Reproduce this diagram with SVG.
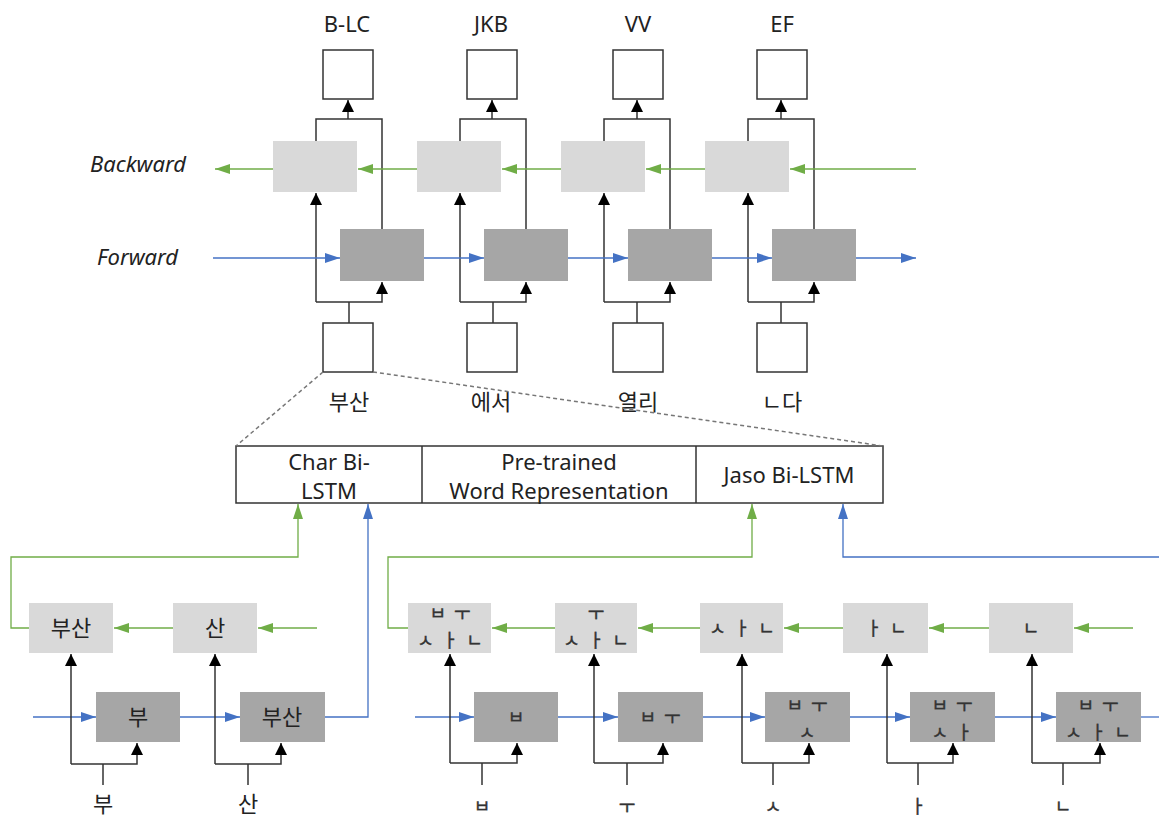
<svg xmlns="http://www.w3.org/2000/svg" width="1159" height="819" viewBox="0 0 1159 819">
<style>
.t{font-family:"Noto Sans","Noto Sans CJK KR",sans-serif;font-size:22px;fill:#222;text-anchor:middle}
.k{font-family:"Noto Sans CJK KR","Noto Sans",sans-serif;font-size:22px;fill:#222;text-anchor:middle}
.j{font-family:"Noto Sans CJK KR",sans-serif;font-size:18px;fill:#333;stroke:#333;stroke-width:0.4px;text-anchor:middle;letter-spacing:8px}
.it{font-family:"Noto Sans",sans-serif;font-size:22px;font-style:italic;fill:#222}
.wb{fill:#fff;stroke:#333;stroke-width:1.5}
.lb{fill:#d9d9d9}
.db{fill:#a6a6a6}
.c{fill:none;stroke:#333;stroke-width:1.5}
.g{fill:none;stroke:#70ad47;stroke-width:1.3}
.b{fill:none;stroke:#4472c4;stroke-width:1.3}
.ca{marker-end:url(#ak)}
.ga{marker-end:url(#ag)}
.ba{marker-end:url(#ab)}
.d{fill:none;stroke:#777;stroke-width:1.5;stroke-dasharray:4,3}
</style>
<defs>
<marker id="ak" viewBox="0 0 12 12" refX="12" refY="6" markerWidth="12" markerHeight="12" markerUnits="userSpaceOnUse" orient="auto"><path d="M0,0 L12,6 L0,12 z" fill="#000"/></marker>
<marker id="ag" viewBox="0 0 15 10" refX="15" refY="5" markerWidth="15" markerHeight="10" markerUnits="userSpaceOnUse" orient="auto"><path d="M0,0 L15,5 L0,10 z" fill="#70ad47"/></marker>
<marker id="ab" viewBox="0 0 15 10" refX="15" refY="5" markerWidth="15" markerHeight="10" markerUnits="userSpaceOnUse" orient="auto"><path d="M0,0 L15,5 L0,10 z" fill="#4472c4"/></marker>
</defs>

<!-- labels -->
<text class="it" x="90" y="172">Backward</text>
<text class="it" x="97" y="265">Forward</text>

<!-- top column nodes -->
<g id="out1"><rect class="wb" x="323" y="50" width="50" height="49"/><text class="t" x="347" y="32">B-LC</text></g>
<g id="out2"><rect class="wb" x="467" y="50" width="50" height="49"/><text class="t" x="491" y="32">JKB</text></g>
<g id="out3"><rect class="wb" x="613" y="50" width="50" height="49"/><text class="t" x="638" y="32">VV</text></g>
<g id="out4"><rect class="wb" x="757" y="50" width="50" height="49"/><text class="t" x="782" y="32">EF</text></g>

<g id="bw1"><rect class="lb" x="273" y="141" width="84" height="51"/></g>
<g id="bw2"><rect class="lb" x="417" y="141" width="84" height="51"/></g>
<g id="bw3"><rect class="lb" x="561" y="141" width="84" height="51"/></g>
<g id="bw4"><rect class="lb" x="705" y="141" width="84" height="51"/></g>

<g id="fw1"><rect class="db" x="340" y="229" width="84" height="52"/></g>
<g id="fw2"><rect class="db" x="484" y="229" width="84" height="52"/></g>
<g id="fw3"><rect class="db" x="628" y="229" width="84" height="52"/></g>
<g id="fw4"><rect class="db" x="772" y="229" width="84" height="52"/></g>

<g id="in1"><rect class="wb" x="323" y="323" width="50" height="49"/><text class="k" x="349" y="410">부산</text></g>
<g id="in2"><rect class="wb" x="467" y="323" width="50" height="49"/><text class="k" x="491" y="410">에서</text></g>
<g id="in3"><rect class="wb" x="613" y="323" width="50" height="49"/><text class="k" x="638" y="410">열리</text></g>
<g id="in4"><rect class="wb" x="757" y="323" width="50" height="49"/><text class="k" x="782" y="410">ㄴ다</text></g>

<!-- embedding box -->
<g id="embed">
<rect class="wb" x="236" y="446" width="647" height="57"/>
<line class="c" x1="422" y1="446" x2="422" y2="503"/>
<line class="c" x1="696" y1="446" x2="696" y2="503"/>
<text class="t"><tspan x="329" y="470">Char Bi-</tspan><tspan x="329" y="499">LSTM</tspan></text>
<text class="t"><tspan x="559" y="470">Pre-trained</tspan><tspan x="559" y="499">Word Representation</tspan></text>
<text class="t" x="789" y="483">Jaso Bi-LSTM</text>
</g>

<!-- char level nodes -->
<g id="cb1"><rect class="lb" x="29" y="603" width="84" height="50"/><text class="k" x="71" y="636">부산</text></g>
<g id="cb2"><rect class="lb" x="173" y="603" width="84" height="50"/><text class="k" x="215" y="636">산</text></g>
<g id="cf1"><rect class="db" x="96" y="692" width="84" height="50"/><text class="k" x="138" y="725">부</text></g>
<g id="cf2"><rect class="db" x="240" y="692" width="85" height="50"/><text class="k" x="282" y="725">부산</text></g>
<text class="k" x="103" y="812">부</text>
<text class="k" x="248" y="812">산</text>

<!-- jaso level nodes -->
<g id="jb1"><rect class="lb" x="408" y="603" width="83" height="50"/><text class="j"><tspan x="454" y="620">ㅂㅜ</tspan><tspan x="454" y="647">ㅅㅏㄴ</tspan></text></g>
<g id="jb2"><rect class="lb" x="555" y="603" width="82" height="50"/><text class="j"><tspan x="600" y="620">ㅜ</tspan><tspan x="600" y="647">ㅅㅏㄴ</tspan></text></g>
<g id="jb3"><rect class="lb" x="700" y="603" width="83" height="50"/><text class="j" x="746" y="635">ㅅㅏㄴ</text></g>
<g id="jb4"><rect class="lb" x="843" y="603" width="85" height="50"/><text class="j" x="890" y="635">ㅏㄴ</text></g>
<g id="jb5"><rect class="lb" x="989" y="603" width="84" height="50"/><text class="j" x="1035" y="635">ㄴ</text></g>

<g id="jf1"><rect class="db" x="474" y="692" width="84" height="50"/><text class="j" x="520" y="724">ㅂ</text></g>
<g id="jf2"><rect class="db" x="618" y="692" width="85" height="50"/><text class="j" x="664" y="724">ㅂㅜ</text></g>
<g id="jf3"><rect class="db" x="765" y="692" width="85" height="50"/><text class="j"><tspan x="811" y="712">ㅂㅜ</tspan><tspan x="811" y="739">ㅅ</tspan></text></g>
<g id="jf4"><rect class="db" x="910" y="692" width="85" height="50"/><text class="j"><tspan x="956" y="712">ㅂㅜ</tspan><tspan x="956" y="739">ㅅㅏ</tspan></text></g>
<g id="jf5"><rect class="db" x="1056" y="692" width="85" height="50"/><text class="j"><tspan x="1102" y="712">ㅂㅜ</tspan><tspan x="1102" y="739">ㅅㅏㄴ</tspan></text></g>

<text class="j" x="486" y="813">ㅂ</text>
<text class="j" x="631" y="813">ㅜ</text>
<text class="j" x="777" y="813">ㅅ</text>
<text class="j" x="922" y="813">ㅏ</text>
<text class="j" x="1067" y="813">ㄴ</text>

<!-- connectors -->
<g id="connectors">
<!-- top columns -->
<path class="c" d="M316,141 V119 H382 V229"/><path class="c ca" d="M348,119 V100"/>
<path class="c ca" d="M316,302 V193"/><path class="c ca" d="M316,302 H382 V282"/><path class="c" d="M349,302 V323"/>
<path class="c" d="M460,141 V119 H526 V229"/><path class="c ca" d="M492,119 V100"/>
<path class="c ca" d="M460,302 V193"/><path class="c ca" d="M460,302 H526 V282"/><path class="c" d="M493,302 V323"/>
<path class="c" d="M604,141 V119 H670 V229"/><path class="c ca" d="M637,119 V100"/>
<path class="c ca" d="M604,302 V193"/><path class="c ca" d="M604,302 H670 V282"/><path class="c" d="M637,302 V323"/>
<path class="c" d="M748,141 V119 H814 V229"/><path class="c ca" d="M781,119 V100"/>
<path class="c ca" d="M748,302 V193"/><path class="c ca" d="M748,302 H814 V282"/><path class="c" d="M781,302 V323"/>

<path class="g ga" d="M916,169 H790"/>
<path class="g ga" d="M705,169 H646"/>
<path class="g ga" d="M561,169 H502"/>
<path class="g ga" d="M417,169 H358"/>
<path class="g ga" d="M273,169 H215"/>

<path class="b ba" d="M213,258 H340"/>
<path class="b ba" d="M424,258 H484"/>
<path class="b ba" d="M568,258 H628"/>
<path class="b ba" d="M712,258 H772"/>
<path class="b ba" d="M856,258 H916"/>

<!-- zoom dashed lines -->
<path class="d" d="M323,372 L236,446"/>
<path class="d" d="M373,372 L883,446"/>

<!-- char level -->
<path class="g ga" d="M317,628 H258"/>
<path class="g ga" d="M173,628 H114"/>
<path class="b ba" d="M33,717 H96"/>
<path class="b ba" d="M180,717 H240"/>
<path class="c ca" d="M71,764 V654"/><path class="c ca" d="M71,764 H137 V743"/><path class="c" d="M103,764 V785"/>
<path class="c ca" d="M215,764 V654"/><path class="c ca" d="M215,764 H281 V743"/><path class="c" d="M248,764 V785"/>
<path class="g ga" d="M29,628 H11 V557 H298 V504"/>
<path class="b ba" d="M325,717 H368 V504"/>

<!-- jaso level -->
<path class="g ga" d="M1133,628 H1074"/>
<path class="g ga" d="M989,628 H929"/>
<path class="g ga" d="M843,628 H784"/>
<path class="g ga" d="M700,628 H638"/>
<path class="g ga" d="M555,628 H492"/>
<path class="b ba" d="M415,717 H474"/>
<path class="b ba" d="M558,717 H618"/>
<path class="b ba" d="M703,717 H765"/>
<path class="b ba" d="M850,717 H910"/>
<path class="b ba" d="M995,717 H1056"/>
<path class="b" d="M1141,717 H1159"/>
<path class="c ca" d="M450,763 V654"/><path class="c ca" d="M450,763 H517 V743"/><path class="c" d="M482,763 V785"/>
<path class="c ca" d="M594,763 V654"/><path class="c ca" d="M594,763 H663 V743"/><path class="c" d="M627,763 V785"/>
<path class="c ca" d="M742,763 V654"/><path class="c ca" d="M742,763 H809 V743"/><path class="c" d="M773,763 V785"/>
<path class="c ca" d="M887,763 V654"/><path class="c ca" d="M887,763 H953 V743"/><path class="c" d="M918,763 V785"/>
<path class="c ca" d="M1032,763 V654"/><path class="c ca" d="M1032,763 H1100 V743"/><path class="c" d="M1063,763 V785"/>
<path class="g ga" d="M408,628 H388 V557 H752 V504"/>
<path class="b ba" d="M1159,557 H843 V504"/>
</g>
</svg>
